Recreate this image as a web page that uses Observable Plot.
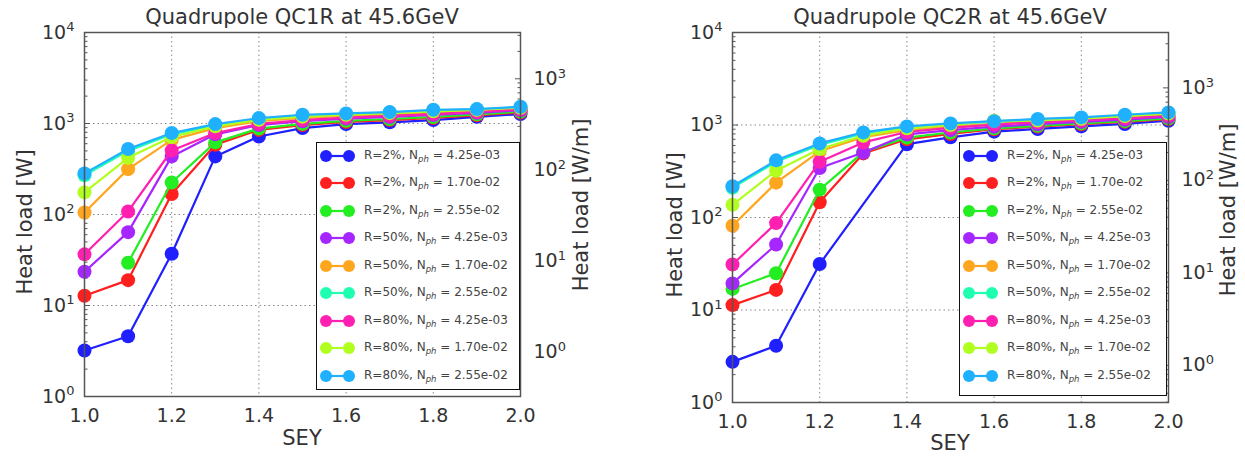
<!DOCTYPE html>
<html><head><meta charset="utf-8">
<script src="https://cdn.jsdelivr.net/npm/d3@7"></script>
<script src="https://cdn.jsdelivr.net/npm/@observablehq/plot@0.6"></script>
<style>
body{margin:0;background:#fff;font-family:"DejaVu Sans",sans-serif;color:#333}
#wrap{position:relative;width:1245px;height:458px;overflow:hidden;background:#fff}
.panel{position:absolute;top:0}
.lbl{position:absolute;font-size:21px;color:#333;white-space:nowrap;transform:translate(-50%,-50%)}
.rot{transform:translate(-50%,-50%) rotate(-90deg)}
.legend{position:absolute;border:1px solid #111;background:#fff;box-sizing:border-box}
.row{position:absolute;left:0;height:16px;display:flex;align-items:center;font-size:12px;color:#444;white-space:nowrap}
.row sub{font-size:8.5px;vertical-align:-3px}
</style></head><body><div id="wrap"></div>
<script>
// ---- data ----
const sey = [1.0, 1.1, 1.2, 1.3, 1.4, 1.5, 1.6, 1.7, 1.8, 1.9, 2.0];
const reflectivity = ["2%", "2%", "2%", "50%", "50%", "50%", "80%", "80%", "80%"];
const nph = ["4.25e-03", "1.70e-02", "2.55e-02", "4.25e-03", "1.70e-02", "2.55e-02", "4.25e-03", "1.70e-02", "2.55e-02"];
const colors = ["#1f1fff", "#ff1f1f", "#22ee22", "#a526ff", "#ffa61f", "#1fffb0", "#ff1fb0", "#b0ff1f", "#1fb0ff"];

// QC1R heat load [W]
const qc1r_R2_N425  = [3.2, 4.6, 37, 435, 720, 890, 985, 1030, 1090, 1185, 1270];
const qc1r_R2_N170  = [12.8, 19, 168, 585, 850, 960, 1040, 1090, 1150, 1230, 1320];
const qc1r_R2_N255  = [null, 29.5, 225, 620, 880, 990, 1070, 1120, 1180, 1260, 1350];
const qc1r_R50_N425 = [23.5, 64, 435, 760, 960, 1060, 1130, 1180, 1240, 1310, 1400];
const qc1r_R50_N170 = [105, 315, 660, 890, 1060, 1150, 1210, 1260, 1320, 1380, 1460];
const qc1r_R50_N255 = [270, 500, 760, 960, 1120, 1220, 1270, 1320, 1390, 1430, 1510];
const qc1r_R80_N425 = [36.5, 108, 505, 785, 990, 1090, 1160, 1210, 1270, 1340, 1430];
const qc1r_R80_N170 = [175, 420, 710, 930, 1100, 1190, 1250, 1300, 1360, 1410, 1490];
const qc1r_R80_N255 = [283, 525, 785, 985, 1146, 1247, 1290, 1334, 1414, 1440, 1525];

// QC2R heat load [W]
const qc2r_R2_N425  = [2.75, 4.1, 31.4, null, 620, 735, 847, 906, 966, 1026, 1112];
const qc2r_R2_N170  = [11.3, 16.5, 146, 493, 700, 800, 900, 960, 1020, 1080, 1160];
const qc2r_R2_N255  = [16.9, 25, 200, 510, 730, 830, 920, 980, 1040, 1100, 1180];
const qc2r_R50_N425 = [19.4, 51, 343, 505, 790, 880, 960, 1020, 1080, 1140, 1220];
const qc2r_R50_N170 = [81.5, 238, 520, 740, 880, 960, 1030, 1090, 1140, 1210, 1290];
const qc2r_R50_N255 = [210, 400, 610, 810, 950, 1020, 1090, 1140, 1190, 1270, 1350];
const qc2r_R80_N425 = [31, 87, 400, 648, 840, 930, 1010, 1070, 1120, 1180, 1260];
const qc2r_R80_N170 = [137, 321, 550, 766, 920, 1000, 1112, 1120, 1170, 1250, 1330];
const qc2r_R80_N255 = [218, 415, 632, 832, 966, 1040, 1100, 1162, 1208, 1291, 1368];

const xTicks = [1.0, 1.2, 1.4, 1.6, 1.8, 2.0];
const yMajor = [1, 10, 100, 1000, 10000];
const wmDecades = [0.1, 1, 10, 100, 1000];
const magnetLength = [3.1, 2.52]; // m, QC1R / QC2R
const titles = ["Quadrupole QC1R at 45.6GeV", "Quadrupole QC2R at 45.6GeV"];

const panels = [
  {title: titles[0], len: magnetLength[0], series: [qc1r_R2_N425, qc1r_R2_N170, qc1r_R2_N255, qc1r_R50_N425, qc1r_R50_N170, qc1r_R50_N255, qc1r_R80_N425, qc1r_R80_N170, qc1r_R80_N255],
   left: 0, width: 597, mL: 84, mR: 77, mT: 32, mB: 62,
   labels: {title: [302, 17], yl: [25, 222], yr: [581, 205], xl: [302, 438]},
   legend: {x: 316, y: 142, w: 204, h: 248}},
  {title: titles[1], len: magnetLength[1], series: [qc2r_R2_N425, qc2r_R2_N170, qc2r_R2_N255, qc2r_R50_N425, qc2r_R50_N170, qc2r_R50_N255, qc2r_R80_N425, qc2r_R80_N170, qc2r_R80_N255],
   left: 622, width: 623, mL: 110, mR: 77, mT: 32, mB: 56,
   labels: {title: [950, 17], yl: [675, 225], yr: [1228, 210], xl: [950, 443]},
   legend: {x: 959, y: 142, w: 208, h: 254}}
];

const wrap = document.getElementById("wrap");
const sup = d => "10^" + Math.round(Math.log10(d));

function makePanel(p) {
  const minor = [];
  [1, 10, 100, 1000].forEach(e => { for (let m = 2; m <= 9; m++) minor.push(m * e); });
  const wmMajor = wmDecades.map(v => v * p.len).filter(v => v >= 1 && v <= 1e4);
  const wmMinor = [];
  wmDecades.forEach(e => { for (let m = 2; m <= 9; m++) wmMinor.push(m * e * p.len); });
  const marks = [
    Plot.gridX(xTicks.slice(1, -1), {stroke: "#888", strokeOpacity: 1, strokeDasharray: "1.5,3"}),
    Plot.gridY([10, 100, 1000], {stroke: "#888", strokeOpacity: 1, strokeDasharray: "1.5,3"}),
    Plot.axisX(xTicks, {tickFormat: d3.format(".1f"), tickSize: 0, tickPadding: 12, fontSize: 19, label: null, fill: "#333"}),
    Plot.axisY(yMajor, {anchor: "left", tickFormat: sup, tickSize: -6, tickPadding: 16, fontSize: 19, label: null, stroke: "#555", fill: "#333"}),
    Plot.axisY(minor, {anchor: "left", tickFormat: () => "", tickSize: -3.5, label: null, stroke: "#555"}),
    Plot.axisY(wmMajor, {anchor: "right", tickFormat: () => "", tickSize: -6, label: null, stroke: "#555"}),
    Plot.axisY(wmMinor.filter(v => v >= 1 && v <= 1e4), {anchor: "right", tickFormat: () => "", tickSize: -3.5, label: null, stroke: "#555"}),
    Plot.text(wmMajor, {y: d => d, text: d => sup(d / p.len), frameAnchor: "right", textAnchor: "start", dx: 13, fontSize: 19, fill: "#333"})
  ];
  p.series.forEach((vals, si) => {
    const d = vals.map((v, i) => ({x: sey[i], y: v})).filter(o => o.y != null);
    marks.push(Plot.line(d, {x: "x", y: "y", stroke: colors[si], strokeWidth: 2.2}));
    marks.push(Plot.dot(d, {x: "x", y: "y", fill: colors[si], r: 7}));
  });
  marks.push(Plot.frame({stroke: "#555", strokeWidth: 1.5}));
  const svg = Plot.plot({
    width: p.width, height: 458,
    marginLeft: p.mL, marginRight: p.mR, marginTop: p.mT, marginBottom: p.mB,
    style: {fontFamily: "'DejaVu Sans', sans-serif", background: "transparent", overflow: "visible"},
    x: {domain: [1, 2]},
    y: {type: "log", domain: [1, 1e4]},
    marks
  });
  svg.classList.add("panel");
  svg.style.left = p.left + "px";
  wrap.appendChild(svg);
  // superscript exponents on the log tick labels
  svg.querySelectorAll("text").forEach(t => {
    const m = /^10\^(-?\d+)$/.exec(t.textContent);
    if (m) {
      t.textContent = "10";
      const s = document.createElementNS("http://www.w3.org/2000/svg", "tspan");
      s.setAttribute("dy", "-0.55em");
      s.setAttribute("font-size", "13");
      s.textContent = m[1];
      t.appendChild(s);
    }
  });
  const lab = (txt, [x, y], cls) => {
    const d = document.createElement("div");
    d.className = "lbl" + (cls ? " " + cls : "");
    d.style.left = x + "px"; d.style.top = y + "px";
    d.textContent = txt;
    wrap.appendChild(d);
  };
  lab(p.title, p.labels.title);
  lab("Heat load [W]", p.labels.yl, "rot");
  lab("Heat load [W/m]", p.labels.yr, "rot");
  lab("SEY", p.labels.xl);
  // legend
  const lg = document.createElement("div");
  lg.className = "legend";
  Object.assign(lg.style, {left: p.legend.x + "px", top: p.legend.y + "px", width: p.legend.w + "px", height: p.legend.h + "px"});
  reflectivity.forEach((r, i) => {
    const row = document.createElement("div");
    row.className = "row";
    row.style.top = (12.5 + i * 27.5 - 8) + "px";
    row.innerHTML = `<svg width="46" height="16" style="margin-left:1px"><line x1="8" x2="31" y1="8" y2="8" stroke="${colors[i]}" stroke-width="2.2"/><circle cx="8" cy="8" r="6" fill="${colors[i]}"/><circle cx="31" cy="8" r="6" fill="${colors[i]}"/></svg><span>R=${r}, N<sub><i>ph</i></sub> = ${nph[i]}</span>`;
    lg.appendChild(row);
  });
  wrap.appendChild(lg);
}
panels.forEach(makePanel);
</script></body></html>
